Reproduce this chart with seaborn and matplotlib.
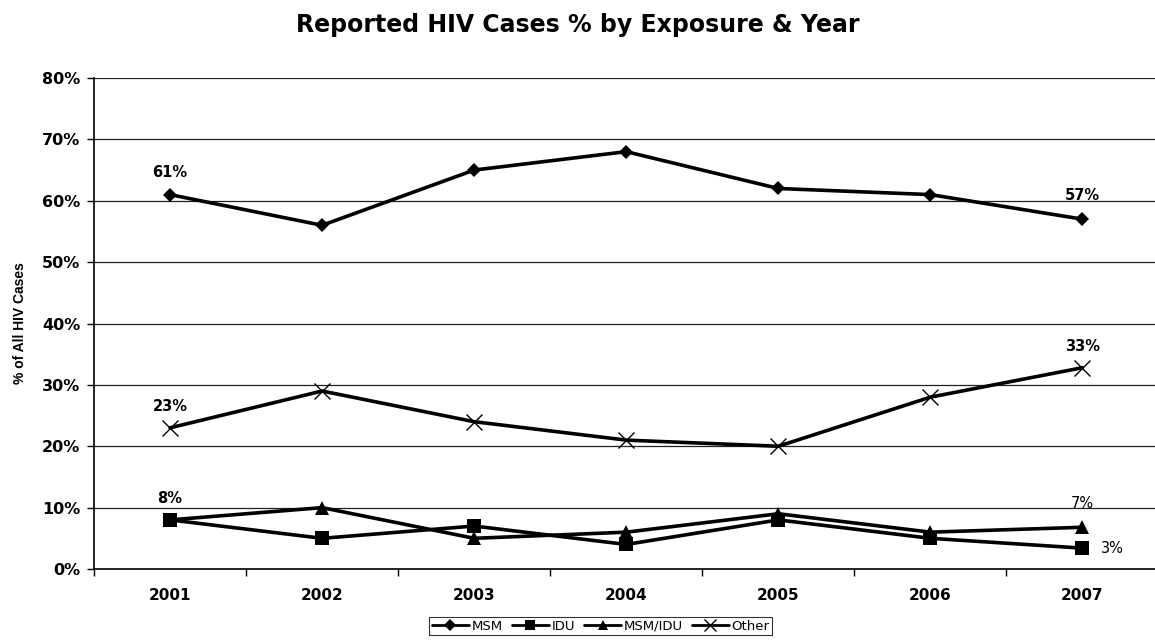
import matplotlib
matplotlib.use("Agg")
import matplotlib.pyplot as plt
import seaborn as sns
import pandas as pd

years = ["2001", "2002", "2003", "2004", "2005", "2006", "2007"]
msm = [61, 56, 65, 68, 62, 61, 57]
idu = [8, 5, 7, 4, 8, 5, 3.4]
msm_idu = [8, 10, 5, 6, 9, 6, 6.8]
other = [23, 29, 24, 21, 20, 28, 32.8]
series_names = ["MSM", "IDU", "MSM/IDU", "Other"]
yticks = [0, 10, 20, 30, 40, 50, 60, 70, 80]

sns.set_theme(style="white")
plt.rcParams["font.family"] = ["DejaVu Sans"]
plt.rcParams["text.color"] = "black"
plt.rcParams["xtick.color"] = "black"
plt.rcParams["ytick.color"] = "black"
plt.rcParams["axes.labelcolor"] = "black"

fig = plt.figure(figsize=(11.55, 6.41), dpi=100)
ax = fig.add_axes([94/1155, 1 - 569/641, 1 - 94/1155 + 0.003, (569 - 78)/641])

for v in yticks[1:]:
    ax.axhline(v, color="#222222", lw=0.9, zorder=0)

x = list(range(len(years)))
styles = {
    "MSM": dict(marker="D", markersize=7.5, mew=0),
    "IDU": dict(marker="s", markersize=10, mew=0),
    "MSM/IDU": dict(marker="^", markersize=10, mew=0),
    "Other": dict(marker="x", markersize=12, mew=1.0),
}
data = {"MSM": msm, "IDU": idu, "MSM/IDU": msm_idu, "Other": other}
for name in series_names:
    df = pd.DataFrame({"x": x, "y": data[name]})
    sns.lineplot(data=df, x="x", y="y", ax=ax, color="black", lw=2.6,
                 label=name, mec="black", mfc="black", **styles[name])

ax.set_xlim(-0.5, 6.5)
ax.set_ylim(0, 80)
ax.set_yticks(yticks)
ax.set_yticklabels([f"{v}%" for v in yticks], fontsize=11.5, fontweight="bold")
ax.set_xticks([i - 0.5 for i in range(7)])
ax.set_xticklabels([])
ax.set_xticks(x, minor=True)
ax.set_xticklabels(years, minor=True, fontsize=11, fontweight="bold")
ax.tick_params(axis="x", which="minor", length=0, pad=14)
ax.tick_params(axis="x", which="major", length=5, width=1, color="black", direction="out", bottom=True)
ax.tick_params(axis="y", length=5, width=1, color="black", direction="out", left=True, pad=5)
ax.set_xlabel("")
ax.set_ylabel("% of All HIV Cases", fontsize=10, fontweight="bold",
              family=["Liberation Sans", "DejaVu Sans"])
ax.yaxis.set_label_coords(-0.063, 0.5)

for s in ["top", "right"]:
    ax.spines[s].set_visible(False)
for s in ["left", "bottom"]:
    ax.spines[s].set_color("black")
    ax.spines[s].set_linewidth(1.2)

bold = dict(fontsize=10.5, fontweight="bold", ha="center", va="bottom")
ax.text(0, msm[0] + 2.3, "61%", **bold)
ax.text(6, msm[6] + 2.6, "57%", **bold)
ax.text(0, other[0] + 2.3, "23%", **bold)
ax.text(6, other[6] + 2.3, "33%", **bold)
ax.text(0, idu[0] + 2.3, "8%", **bold)
ax.text(6, msm_idu[6] + 2.6, "7%", fontsize=10.5, ha="center", va="bottom")
ax.text(6.12, idu[6], "3%", fontsize=10.5, ha="left", va="center")

leg = ax.legend(loc="upper center", bbox_to_anchor=(0.476, -0.098), ncol=4,
                frameon=True, fancybox=False, edgecolor="black", fontsize=9.5,
                handlelength=2.8, handletextpad=0.2, columnspacing=0.7,
                borderpad=0.2, borderaxespad=0)
leg.get_frame().set_linewidth(0.8)
for h in leg.legend_handles:
    h.set_linewidth(2.0)
    h.set_markersize(h.get_markersize() * 0.75)

fig.suptitle("Reported HIV Cases % by Exposure & Year", fontsize=17, fontweight="bold",
             x=0.5, y=0.98)
fig.savefig("out.png", dpi=100)
